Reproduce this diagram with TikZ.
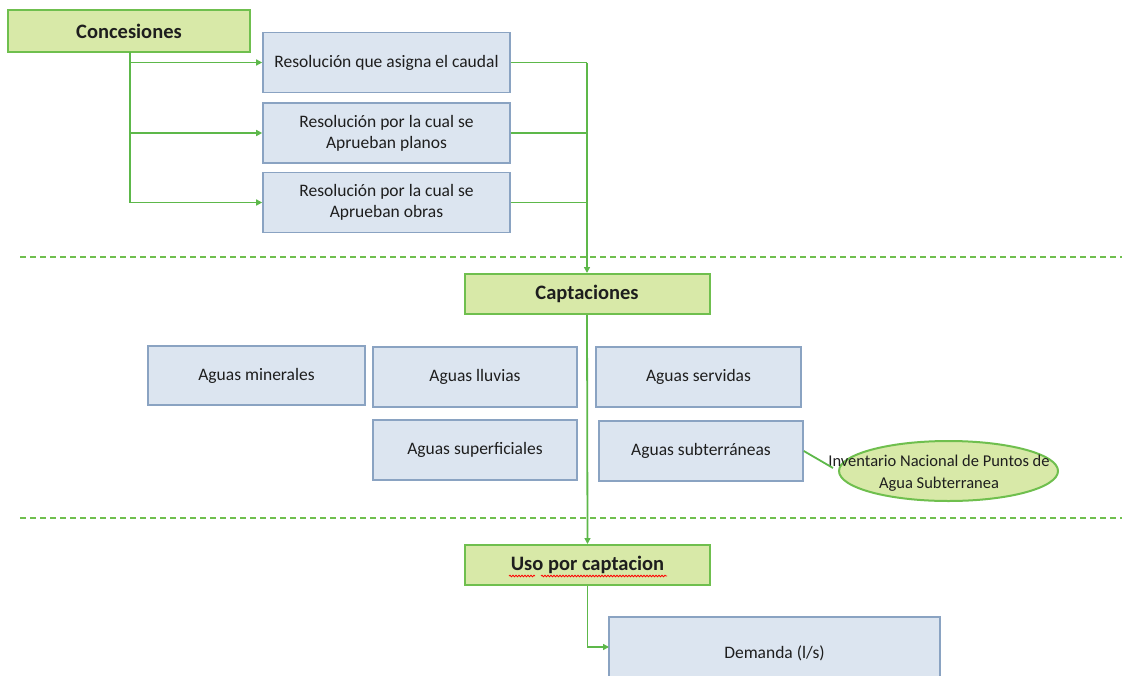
\documentclass[tikz,border=0pt]{standalone}
\usepackage{fontspec}
\setmainfont{Carlito}
\usetikzlibrary{arrows.meta,shapes.geometric,decorations.pathmorphing}
\definecolor{gfill}{HTML}{D8E9A8}
\definecolor{gdraw}{HTML}{6FBF4E}
\definecolor{bfill}{HTML}{DCE5F0}
\definecolor{bdraw}{HTML}{8AA3C2}
\definecolor{conn}{HTML}{5DB84A}
\definecolor{txt}{HTML}{1E1E1E}
\tikzset{
  greenbox/.style={draw=gdraw, fill=gfill, line width=2pt, text=txt,
    font=\fontsize{20.5}{24}\selectfont\bfseries, inner sep=0pt},
  bluebox/.style={draw=bdraw, fill=bfill, line width=1.6pt, text=txt,
    font=\fontsize{17.5}{21}\selectfont, align=center, inner sep=0pt},
  ovalbox/.style={ellipse, draw=gdraw, fill=gfill, line width=2pt, inner sep=0pt},
  ovaltext/.style={text=txt, font=\fontsize{16.5}{22}\selectfont, align=center, inner sep=0pt},
  link/.style={draw=conn, line width=1.8pt},
  arr/.style={link, -{Triangle[length=6pt,width=6pt]}},
  sep/.style={draw=gdraw, line width=2pt, dash pattern=on 6pt off 4pt},
  spell/.style={draw=red, line width=0.8pt, decorate,
    decoration={snake, segment length=3pt, amplitude=0.8pt}}
}
\begin{document}
\begin{tikzpicture}[x=1pt,y=-1pt]
\useasboundingbox (0,0) rectangle (1122,675);
\clip (0,0) rectangle (1122,675);

% separators
\draw[sep] (20,257) -- (1122,257);
\draw[sep] (20,518) -- (1122,518);

% top section
\node[greenbox, minimum width=242pt, minimum height=42pt] (con) at (129,31) {Concesiones};
\node[bluebox, minimum width=247pt, minimum height=60pt] (r1) at (386.5,62.5) {Resolución que asigna el caudal};
\node[bluebox, minimum width=247pt, minimum height=60pt] (r2) at (386.5,133) {Resolución por la cual se\\Aprueban planos};
\node[bluebox, minimum width=247pt, minimum height=60pt] (r3) at (386.5,202.5) {Resolución por la cual se\\Aprueban obras};

\coordinate (ct) at (130,52);
\coordinate (b1) at (130,62.5);
\coordinate (b2) at (130,133);
\coordinate (b3) at (130,202.5);
\draw[link] (ct) -- (b3);
\draw[arr] (b1) -- (r1.west);
\draw[arr] (b2) -- (r2.west);
\draw[arr] (b3) -- (r3.west);

\coordinate (j1) at (587,62.5);
\coordinate (j2) at (587,133);
\coordinate (j3) at (587,202.5);

% middle section
\node[greenbox, minimum width=245pt, minimum height=40pt] (cap) at (587,294) {Captaciones};
\draw[link] (r1.east) -- (j1);
\draw[link] (r2.east) -- (j2);
\draw[link] (r3.east) -- (j3);
\draw[arr] (j1) -- (cap.north);

\node[bluebox, minimum width=217pt, minimum height=59pt] (min) at (256.5,375.5) {Aguas minerales};
\node[bluebox, minimum width=204pt, minimum height=60pt] (llu) at (475,377) {Aguas lluvias};
\node[bluebox, minimum width=205pt, minimum height=60pt] (ser) at (698.5,377) {Aguas servidas};
\node[bluebox, minimum width=204pt, minimum height=60pt] (sup) at (475,450) {Aguas superficiales};
\node[bluebox, minimum width=204pt, minimum height=60pt] (sub) at (701,451) {Aguas subterráneas};
\node[ovalbox, minimum width=219pt, minimum height=60pt] (inv) at (948.5,471) {};
\node[ovaltext] (invt) at (939,473) {Inventario Nacional de Puntos de\\Agua Subterranea};
\coordinate (invl) at (833,468);
\draw[link] (sub.east) -- (invl);

% bottom section
\node[greenbox, minimum width=245pt, minimum height=40pt] (uso) at (587.5,565) {Uso por captacion};
\draw[arr] (cap.south) -- (uso.north);
\draw[spell] (509,576) -- (535,576);
\draw[spell] (541,576) -- (667,576);

\node[bluebox, minimum width=331pt, minimum height=72pt] (dem) at (774.5,653) {Demanda (l/s)};
\coordinate (dl) at (609,647);
\draw[arr] (uso.south) |- (dl);
\end{tikzpicture}
\end{document}
